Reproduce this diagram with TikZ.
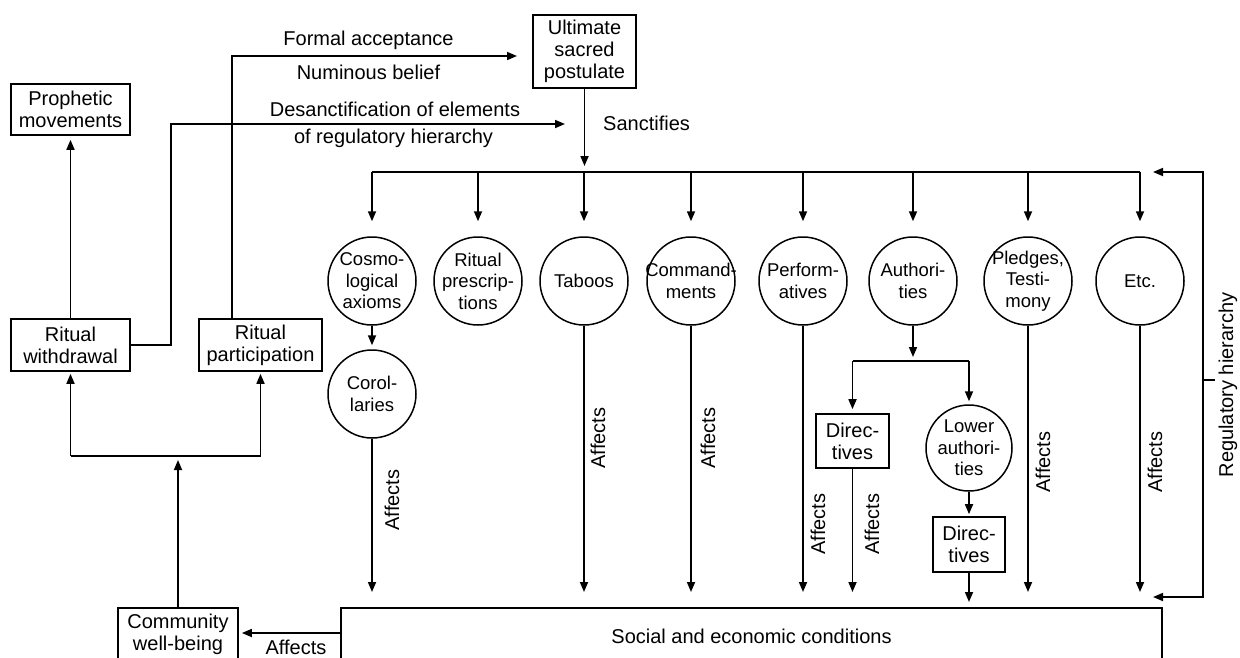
\documentclass[tikz,border=0pt]{standalone}
\usepackage{fontspec}
\setmainfont{Liberation Sans}
\usetikzlibrary{arrows.meta}
\newcommand\fs{\fontsize{20}{22}\selectfont}
\newcommand\fc{\fontsize{18.5}{21.5}\selectfont}
\tikzset{
  ln/.style={line width=1.7pt},
  arr/.style={line width=1.7pt, -{Triangle[length=10pt,width=8pt]}},
  box/.style={draw, line width=1.7pt, align=center, inner sep=0pt, font=\fs},
  circ/.style={draw, circle, line width=1.5pt, minimum size=88pt, inner sep=0pt},
  ctext/.style={align=center, inner sep=0pt, font=\fc},
  lbl/.style={font=\fs, inner sep=0pt},
  vlbl/.style={font=\fs, inner sep=0pt, rotate=90},
}
\newcommand\cnode[4][]{\node[circ,#1] (#2) at (#3) {}; \node[ctext] (#2t) at (#2) {#4};}
\begin{document}
\begin{tikzpicture}[x=1pt,y=-1pt]
\useasboundingbox (0,0) rectangle (1240,657);
\clip (0,0) rectangle (1240,657);

% boxes
\node[box, minimum width=103pt, minimum height=73pt] (usp) at (584.5,51.5) {Ultimate\\sacred\\postulate};
\node[box, minimum width=119pt, minimum height=51pt] (proph) at (70.5,109.5) {Prophetic\\movements};
\node[box, minimum width=119pt, minimum height=52pt] (withd) at (70.5,345) {Ritual\\withdrawal};
\node[box, minimum width=123pt, minimum height=52pt] (partic) at (260.5,345) {Ritual\\participation};
\node[box, minimum width=120pt, minimum height=52pt, anchor=north] (comm) at (178,607) {Community\\well-being};
\node[box, minimum width=821pt, minimum height=56pt, anchor=north] (soc) at (751.5,607) {Social and economic conditions};

% circles
\cnode{cosmo}{372,281}{Cosmo-\\logical\\axioms}
\cnode{rit}{478,281}{Ritual\\prescrip-\\tions}
\cnode{tab}{584,281}{Taboos}
\cnode{cmd}{691,281}{Command-\\ments}
\cnode{perf}{803,281}{Perform-\\atives}
\cnode{auth}{913,281}{Authori-\\ties}
\cnode{pledge}{1028,281}{Pledges,\\Testi-\\mony}
\cnode{etc}{1140,281}{Etc.}
\cnode{coro}{372,394}{Corol-\\laries}
\cnode[minimum size=86pt]{lowauth}{969,448}{Lower\\authori-\\ties}
\node[box, minimum width=73pt, minimum height=54pt] (dir1) at (852.5,441) {Direc-\\tives};
\node[box, minimum width=72pt, minimum height=55pt] (dir2) at (969,544.5) {Direc-\\tives};

% text labels
\node[lbl] (tfa) at (368.5,40) {Formal acceptance};
\node[lbl] (tnb) at (368.5,72) {Numinous belief};
\node[lbl] (tds) at (395,109) {Desanctification of elements};
\node[lbl] (trh) at (393.5,138) {of regulatory hierarchy};
\node[lbl, anchor=west] (tsa) at (603,123) {Sanctifies};
\node[vlbl] (a1) at (392,500) {Affects};
\node[vlbl] (a2) at (598,438) {Affects};
\node[vlbl] (a3) at (708,438) {Affects};
\node[vlbl] (a4) at (818,524) {Affects};
\node[vlbl] (a5) at (872,524) {Affects};
\node[vlbl] (a6) at (1043,462) {Affects};
\node[vlbl] (a7) at (1155,462) {Affects};
\node[lbl] (a8) at (296,647) {Affects};
\node[vlbl] (treg) at (1228,385) {Regulatory hierarchy};

% coordinates
\coordinate (busy) at (0,172);
\coordinate (fa) at (232,56);
\coordinate (fatip) at (517,56);
\coordinate (dsc) at (171,124);
\coordinate (dsctip) at (565,124);
\coordinate (hl) at (178,456);
\coordinate (sy) at (0,633);
\coordinate (ah) at (913,361);
\coordinate (rb1) at (1203,172);
\coordinate (rb2) at (1203,597);
\coordinate (rt1) at (1153,172);
\coordinate (rt2) at (1153,597);
\coordinate (tk) at (1203,380);
\coordinate (tke) at (1215,380);

% top connectors
\draw[arr] (partic.north -| fa) -- (fa) -- (fatip);
\draw[arr] (withd.east) -| (dsc) -- (dsctip);
\draw[arr, shorten >=4pt] (withd) -- (proph);
\draw[arr, shorten >=6pt] (usp) -- (usp |- busy);
\draw[ln] (cosmo |- busy) -- (etc |- busy);
\foreach \n in {cosmo,rit,tab,cmd,perf,auth,pledge,etc}
  \draw[arr, shorten >=15pt] (\n |- busy) -- (\n);

% regulatory bracket
\draw[ln, {Triangle[length=10pt,width=8pt]}-{Triangle[length=10pt,width=8pt]}] (rt1) -- (rb1) -- (rb2) -- (rt2);
\draw[ln] (tk) -- (tke);

% hierarchy connectors
\draw[arr, shorten >=4pt] (cosmo) -- (coro);
\draw[arr, shorten >=4pt] (auth) -- (auth |- ah);
\draw[ln] (dir1 |- ah) -- (lowauth |- ah);
\draw[arr, shorten >=4pt] (dir1 |- ah) -- (dir1);
\draw[arr, shorten >=3pt] (lowauth |- ah) -- (lowauth);
\draw[arr, shorten >=2pt] (lowauth) -- (dir2);
\draw[arr, shorten >=5pt] (dir2) -- (dir2 |- soc.north);

% affects arrows
\foreach \n in {coro,tab,cmd,perf,dir1,pledge,etc}
  \draw[arr, shorten >=15pt] (\n) -- (\n |- soc.north);

% bottom-left
\draw[arr, shorten >=3pt] (soc.west |- sy) -- (comm.east |- sy);
\draw[arr, shorten >=4pt] (comm) -- (hl);
\draw[ln] (withd |- hl) -- (partic |- hl);
\draw[arr, shorten >=2pt] (withd |- hl) -- (withd);
\draw[arr, shorten >=2pt] (partic |- hl) -- (partic);
\end{tikzpicture}
\end{document}
